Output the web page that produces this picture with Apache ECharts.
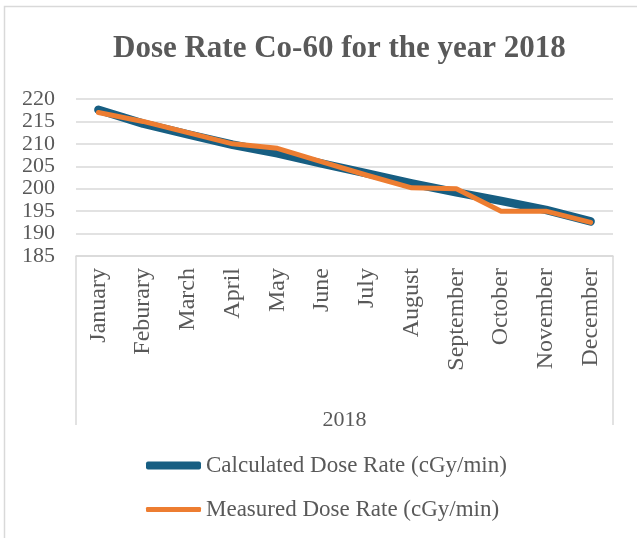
<!DOCTYPE html>
<html>
<head>
<meta charset="utf-8">
<script src="https://cdn.jsdelivr.net/npm/echarts@6/dist/echarts.min.js"></script>
<style>
  html, body { margin: 0; padding: 0; background: #fff; }
  #chart { width: 637px; height: 538px; }
</style>
</head>
<body>
<div id="chart"></div>
<script>
// Monthly Co-60 dose rates for 2018 (cGy/min)
const months = ['January', 'Feburary', 'March', 'April', 'May', 'June', 'July',
  'August', 'September', 'October', 'November', 'December'];
const calculatedRate = [217.6, 214.5, 212.1, 209.8, 207.9, 205.6, 203.4, 201.2, 199.2, 197.3, 195.3, 192.7];
const measuredRate = [217.0, 215.0, 212.5, 210.0, 209.0, 206.0, 203.0, 200.2, 200.0, 195.0, 195.0, 192.5];
const yTicks = [185, 190, 195, 200, 205, 210, 215, 220];
const calcName = 'Calculated Dose Rate (cGy/min)';
const measName = 'Measured Dose Rate (cGy/min)';

const W = 637, H = 538;
const grid = { left: 76, right: 24, top: 99, bottom: 282 };
const catBoxBottom = 425;
const serif = '"Liberation Serif", "Times New Roman", serif';
const textGray = '#595959';
const lineGray = '#d9d9d9';
const blue = '#175e82';
const orange = '#ed7d31';

const chart = echarts.init(document.getElementById('chart'), null, { renderer: 'canvas' });

const gridRight = W - grid.right;
const gridBottom = H - grid.bottom;

chart.setOption({
  animation: false,
  backgroundColor: '#fff',
  title: {
    text: 'Dose Rate Co-60 for the year 2018',
    left: 108,
    top: 28,
    textStyle: { fontFamily: serif, fontWeight: 'bold', fontSize: 31, color: textGray }
  },
  grid: { left: grid.left, right: grid.right, top: grid.top, bottom: grid.bottom, containLabel: false },
  xAxis: {
    type: 'category',
    data: months,
    boundaryGap: true,
    name: '2018',
    nameLocation: 'middle',
    nameGap: 153,
    nameTextStyle: { fontFamily: serif, fontSize: 22, color: textGray },
    axisLine: { show: true, lineStyle: { color: lineGray, width: 1.5 } },
    axisTick: { show: false },
    axisLabel: {
      rotate: 90, margin: 12, interval: 0,
      fontFamily: serif, fontSize: 24, color: textGray
    }
  },
  yAxis: {
    type: 'value',
    min: yTicks[0],
    max: yTicks[yTicks.length - 1],
    interval: yTicks[1] - yTicks[0],
    axisLine: { show: false },
    axisTick: { show: false },
    axisLabel: { margin: 21, fontFamily: serif, fontSize: 22, color: textGray },
    splitLine: { show: true, lineStyle: { color: lineGray, width: 1.5 } }
  },
  legend: [
    {
      data: [{ name: calcName, icon: 'roundRect' }],
      left: 141, top: 449,
      itemWidth: 55, itemHeight: 8, itemGap: 0,
      textStyle: { fontFamily: serif, fontSize: 23, color: textGray },
      selectedMode: false
    },
    {
      data: [{ name: measName, icon: 'roundRect' }],
      left: 141, top: 493,
      itemWidth: 55, itemHeight: 5, itemGap: 0,
      textStyle: { fontFamily: serif, fontSize: 23, color: textGray },
      selectedMode: false
    }
  ],
  graphic: [
    // outer chart frame
    {
      type: 'rect', silent: true, z: -1,
      shape: { x: 4.5, y: 6.5, width: W + 10, height: H + 10 },
      style: { fill: null, stroke: lineGray, lineWidth: 1.5 }
    },
    // category label box sides
    {
      type: 'line', silent: true,
      shape: { x1: grid.left, y1: gridBottom, x2: grid.left, y2: catBoxBottom },
      style: { stroke: lineGray, lineWidth: 1.5 }
    },
    {
      type: 'line', silent: true,
      shape: { x1: gridRight, y1: gridBottom, x2: gridRight, y2: catBoxBottom },
      style: { stroke: lineGray, lineWidth: 1.5 }
    }
  ],
  series: [
    {
      name: calcName,
      type: 'line',
      data: calculatedRate,
      showSymbol: false,
      symbol: 'none',
      color: blue,
      lineStyle: { color: blue, width: 8.5, cap: 'round', join: 'round' },
      z: 2
    },
    {
      name: measName,
      type: 'line',
      data: measuredRate,
      showSymbol: false,
      symbol: 'none',
      color: orange,
      lineStyle: { color: orange, width: 5, cap: 'round', join: 'round' },
      z: 3
    }
  ]
});
</script>
</body>
</html>
